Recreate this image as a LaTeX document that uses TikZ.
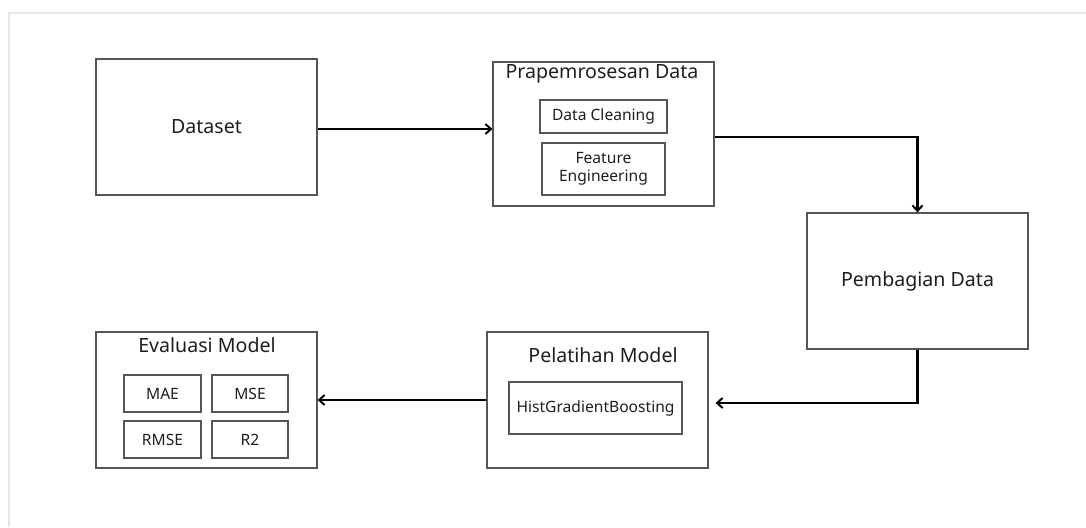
\documentclass[tikz,border=0pt]{standalone}
\usepackage{fontspec}
\setmainfont{Noto Sans}
\usetikzlibrary{arrows.meta}
\definecolor{boxline}{HTML}{555555}
\definecolor{frameline}{HTML}{E6E6E6}
\definecolor{txt}{HTML}{1E1E1E}
\tikzset{
  box/.style={draw=boxline, line width=1.2pt, rectangle, inner sep=0pt, text=txt, align=center},
  bigtext/.style={font=\fontsize{19.6}{23}\selectfont, text=txt},
  smalltext/.style={font=\fontsize{15.6}{19}\selectfont},
  flow/.style={draw=black, line width=2.3pt, -{Straight Barb[length=5.5pt,width=10pt,line width=2pt]}}
}
\begin{document}
\begin{tikzpicture}[x=1pt,y=-1pt]
\useasboundingbox (0,0) rectangle (1086,527);
\draw[frameline, line width=2pt] (9,527) -- (9,13) -- (1086,13);

% Dataset
\node[box, minimum width=221pt, minimum height=136pt, bigtext] (dataset) at (206.5,127) {Dataset};

% Prapemrosesan Data
\node[box, minimum width=221pt, minimum height=144pt] (prep) at (603.5,134) {};
\node[bigtext, anchor=center] (preptitle) at (602,74) {Prapemrosesan Data};
\node[box, minimum width=127pt, minimum height=33pt, smalltext] (clean) at (603.5,116.5) {Data Cleaning};
\node[box, minimum width=123pt, minimum height=52pt, smalltext] (feat) at (603.5,169) {Feature\\[-1pt]Engineering};

% Pembagian Data
\node[box, minimum width=221pt, minimum height=136pt, bigtext] (split) at (917.5,281) {Pembagian Data};

% Pelatihan Model
\node[box, minimum width=221pt, minimum height=136pt] (train) at (597.5,400) {};
\node[bigtext] (traintitle) at (603,355) {Pelatihan Model};
\node[box, minimum width=173pt, minimum height=52pt, smalltext] (hgb) at (595.5,408) {HistGradientBoosting};

% Evaluasi Model
\node[box, minimum width=221pt, minimum height=136pt] (eval) at (206.5,400) {};
\node[bigtext] (evaltitle) at (207,345) {Evaluasi Model};
\node[box, minimum width=77pt, minimum height=37pt, smalltext] (mae) at (162.5,393.5) {MAE};
\node[box, minimum width=76pt, minimum height=37pt, smalltext] (mse) at (250,393.5) {MSE};
\node[box, minimum width=77pt, minimum height=37pt, smalltext] (rmse) at (162.5,439.5) {RMSE};
\node[box, minimum width=76pt, minimum height=37pt, smalltext] (r2) at (250,439.5) {R2};

% connectors
\draw[flow] ([yshift=-2pt]dataset.east) -- ([yshift=-2pt]dataset.east -| prep.west);
\draw[flow] ([yshift=-3pt]prep.east) -| (split.north);
\draw[flow, shorten >=7pt] (split.south) |- ([yshift=-3pt]train.east);
\draw[flow] (train.west) -- (eval.east);
\end{tikzpicture}
\end{document}
